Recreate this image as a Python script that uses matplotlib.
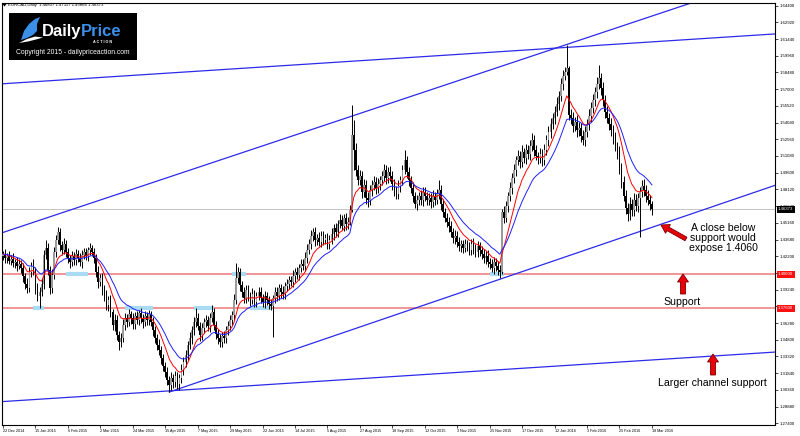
import matplotlib
matplotlib.use("Agg")
import matplotlib.pyplot as plt
from matplotlib.patches import Rectangle, Polygon, FancyArrow
from matplotlib.transforms import blended_transform_factory
import numpy as np
import pandas as pd

SYMBOL = "EURCAD,Daily"
LAST_OHLC = (1.46837, 1.47117, 1.45866, 1.46373)
FIRST_OPEN = 1.4222

# daily closes, 22 Dec 2014 .. 18 Mar 2016
CLOSES = [
    1.4240, 1.4204, 1.4222, 1.4178, 1.4195, 1.4160, 1.4169, 1.4133, 1.4151, 1.4116,
    1.4045, 1.3974, 1.3938, 1.4080, 1.4133, 1.4098, 1.3938, 1.3867, 1.3903, 1.3974,
    1.4231, 1.4293, 1.4098, 1.3938, 1.4053, 1.4257, 1.4364, 1.4434, 1.4319, 1.4275,
    1.4328, 1.4257, 1.4204, 1.4169, 1.4222, 1.4186, 1.4240, 1.4204, 1.4169, 1.4231,
    1.4257, 1.4222, 1.4275, 1.4293, 1.4257, 1.4204, 1.4080, 1.3991, 1.4027, 1.3921,
    1.3867, 1.3788, 1.3832, 1.3726, 1.3610, 1.3655, 1.3522, 1.3460, 1.3495, 1.3610,
    1.3673, 1.3637, 1.3708, 1.3673, 1.3619, 1.3690, 1.3655, 1.3717, 1.3673, 1.3637,
    1.3690, 1.3655, 1.3708, 1.3637, 1.3566, 1.3495, 1.3433, 1.3389, 1.3318, 1.3247,
    1.3194, 1.3123, 1.3079, 1.3141, 1.3105, 1.3159, 1.3088, 1.3141, 1.3212, 1.3283,
    1.3345, 1.3433, 1.3495, 1.3566, 1.3637, 1.3673, 1.3602, 1.3522, 1.3584, 1.3637,
    1.3655, 1.3602, 1.3673, 1.3726, 1.3610, 1.3531, 1.3495, 1.3460, 1.3513, 1.3495,
    1.3566, 1.3602, 1.3655, 1.3699, 1.3832, 1.4027, 1.4080, 1.3965, 1.3903, 1.3850,
    1.3921, 1.3867, 1.3832, 1.3885, 1.3814, 1.3867, 1.3903, 1.3850, 1.3814, 1.3867,
    1.3832, 1.3797, 1.3779, 1.3850, 1.3903, 1.3867, 1.3938, 1.3903, 1.3885, 1.3956,
    1.3974, 1.4009, 1.3991, 1.4045, 1.4080, 1.4053, 1.4116, 1.4151, 1.4133, 1.4204,
    1.4275, 1.4328, 1.4399, 1.4434, 1.4364, 1.4381, 1.4346, 1.4399, 1.4364, 1.4381,
    1.4328, 1.4364, 1.4417, 1.4470, 1.4434, 1.4505, 1.4541, 1.4488, 1.4559, 1.4505,
    1.4523, 1.4629, 1.5294, 1.5161, 1.4984, 1.4895, 1.4931, 1.4789, 1.4851, 1.4736,
    1.4718, 1.4807, 1.4851, 1.4877, 1.4824, 1.4860, 1.4895, 1.4931, 1.4984, 1.4913,
    1.4966, 1.4931, 1.4860, 1.4807, 1.4771, 1.4842, 1.4895, 1.4984, 1.5072, 1.4966,
    1.4895, 1.4824, 1.4753, 1.4683, 1.4718, 1.4753, 1.4718, 1.4789, 1.4753, 1.4718,
    1.4736, 1.4700, 1.4753, 1.4718, 1.4771, 1.4807, 1.4683, 1.4612, 1.4559, 1.4523,
    1.4488, 1.4434, 1.4381, 1.4399, 1.4346, 1.4310, 1.4328, 1.4293, 1.4328, 1.4310,
    1.4275, 1.4328, 1.4293, 1.4257, 1.4310, 1.4275, 1.4240, 1.4204, 1.4222, 1.4169,
    1.4151, 1.4116, 1.4169, 1.4133, 1.4098, 1.4080, 1.4612, 1.4559, 1.4665, 1.4753,
    1.4824, 1.4913, 1.4984, 1.5072, 1.5108, 1.5055, 1.5143, 1.5090, 1.5161, 1.5126,
    1.5196, 1.5250, 1.5161, 1.5108, 1.5090, 1.5126, 1.5072, 1.5161, 1.5250, 1.5320,
    1.5391, 1.5445, 1.5498, 1.5569, 1.5639, 1.5746, 1.5817, 1.5852, 1.5888, 1.5471,
    1.5445, 1.5374, 1.5409, 1.5338, 1.5356, 1.5285, 1.5250, 1.5320, 1.5391, 1.5462,
    1.5533, 1.5604, 1.5675, 1.5746, 1.5799, 1.5710, 1.5604, 1.5498, 1.5445, 1.5391,
    1.5338, 1.5267, 1.5196, 1.5143, 1.5002, 1.4877, 1.4753, 1.4647, 1.4594, 1.4683,
    1.4629, 1.4718, 1.4665, 1.4736, 1.4789, 1.4842, 1.4807, 1.4753, 1.4718, 1.4683, 1.46373,
]

# wick lengths in pips above max(open, close) / below min(open, close)
UPPER_WICK_PIPS = [
    30, 45, 25, 40, 35, 50, 30, 40, 45, 35,
    40, 30, 55, 45, 35, 60, 30, 45, 40, 50,
    45, 71, 40, 35, 50, 45, 40, 45, 40, 35,
    50, 35, 40, 30, 45, 35, 40, 35, 45, 40,
    35, 40, 30, 45, 26, 35, 40, 50, 35, 45,
    40, 55, 35, 45, 30, 50, 40, 35, 45, 55,
    40, 35, 45, 30, 40, 35, 45, 30, 40, 35,
    45, 35, 40, 30, 45, 40, 35, 50, 35, 40,
    40, 45, 35, 50, 40, 45, 35, 40, 50, 45,
    45, 40, 50, 35, 45, 88, 40, 35, 45, 40,
    40, 35, 45, 62, 35, 40, 45, 35, 40, 45,
    35, 40, 45, 40, 50, 133, 45, 40, 35, 45,
    40, 45, 35, 50, 40, 35, 45, 40, 35, 45,
    40, 35, 45, 30, 40, 45, 35, 40, 50, 35,
    45, 40, 35, 50, 40, 45, 35, 40, 45, 50,
    55, 45, 50, 40, 45, 35, 50, 40, 45, 35,
    45, 40, 50, 35, 45, 40, 50, 45, 35, 40,
    40, 45, 266, 133, 60, 45, 50, 40, 55, 45,
    50, 45, 40, 55, 45, 50, 40, 45, 55, 40,
    45, 50, 40, 45, 35, 50, 40, 45, 89, 40,
    45, 40, 50, 35, 45, 40, 50, 45, 40, 35,
    45, 40, 50, 35, 45, 88, 40, 45, 35, 40,
    40, 45, 35, 50, 40, 45, 35, 40, 45, 35,
    40, 45, 50, 35, 45, 40, 35, 45, 40, 50,
    35, 45, 40, 35, 45, 40, 30, 50, 45, 40,
    50, 45, 55, 40, 50, 45, 60, 40, 55, 45,
    50, 60, 40, 45, 35, 50, 40, 55, 45, 50,
    55, 45, 50, 60, 45, 55, 50, 45, 203, 20,
    50, 55, 45, 60, 50, 45, 55, 50, 45, 60,
    50, 55, 45, 60, 115, 45, 50, 40, 55, 45,
    50, 45, 55, 40, 50, 45, 55, 50, 45, 60,
    45, 60, 50, 45, 40, 55, 60, 45, 50, 40, 28,
]
LOWER_WICK_PIPS = [
    35, 40, 45, 30, 40, 35, 45, 40, 30, 45,
    50, 40, 45, 35, 40, 45, 50, 40, 106, 35,
    40, 35, 45, 50, 40, 35, 45, 40, 50, 40,
    35, 45, 40, 50, 35, 40, 45, 35, 40, 50,
    40, 35, 45, 40, 35, 45, 40, 50, 35, 45,
    45, 40, 50, 45, 40, 50, 45, 71, 40, 35,
    40, 45, 35, 50, 40, 45, 35, 40, 45, 50,
    35, 40, 45, 35, 50, 40, 45, 40, 50, 45,
    45, 40, 62, 45, 50, 40, 45, 50, 40, 45,
    40, 45, 35, 50, 40, 45, 35, 50, 40, 45,
    45, 40, 50, 35, 45, 40, 50, 45, 40, 45,
    40, 45, 35, 40, 45, 35, 40, 50, 45, 40,
    45, 40, 50, 35, 40, 45, 35, 40, 45, 50,
    40, 45, 35, 275, 40, 45, 35, 50, 40, 45,
    40, 45, 35, 40, 50, 35, 45, 40, 35, 45,
    40, 35, 45, 40, 50, 45, 35, 40, 45, 40,
    45, 40, 35, 50, 40, 45, 35, 40, 45, 50,
    45, 30, 20, 177, 50, 45, 40, 55, 45, 50,
    60, 45, 50, 40, 55, 45, 50, 40, 45, 50,
    40, 45, 50, 55, 45, 40, 50, 45, 40, 55,
    50, 45, 55, 40, 50, 45, 40, 50, 45, 40,
    45, 50, 40, 45, 35, 40, 50, 45, 40, 45,
    50, 45, 40, 55, 45, 40, 50, 45, 40, 45,
    45, 40, 50, 45, 40, 50, 45, 40, 50, 45,
    45, 40, 50, 45, 40, 53, 20, 45, 40, 50,
    45, 50, 40, 55, 45, 50, 45, 40, 50, 45,
    55, 45, 50, 40, 55, 45, 50, 45, 40, 50,
    50, 45, 55, 40, 50, 45, 55, 40, 30, 40,
    55, 50, 45, 60, 50, 55, 45, 50, 45, 55,
    50, 45, 55, 50, 45, 60, 50, 55, 45, 50,
    55, 50, 45, 60, 55, 50, 45, 55, 60, 50,
    50, 55, 45, 50, 346, 45, 55, 50, 45, 50, 50,
]

DATE_LABELS = [
    "22 Dec 2014", "15 Jan 2015", "6 Feb 2015", "2 Mar 2015", "24 Mar 2015",
    "15 Apr 2015", "7 May 2015", "29 May 2015", "22 Jun 2015", "14 Jul 2015",
    "5 Aug 2015", "27 Aug 2015", "18 Sep 2015", "12 Oct 2015", "3 Nov 2015",
    "25 Nov 2015", "17 Dec 2015", "12 Jan 2016", "3 Feb 2016", "25 Feb 2016",
    "18 Mar 2016",
]
DATE_STEP = 16
PRICE_TICK_START, PRICE_TICK_STEP, N_PRICE_TICKS = 1.27400, 0.01480, 26

SUPPORT_LEVELS = [1.40600, 1.37600]
# (first bar, last bar, level) where price tested a level
TOUCHES = [(15, 20, 1.3760), (31, 42, 1.4060), (60, 74, 1.3760), (94, 104, 1.3760),
           (113, 120, 1.4060), (122, 132, 1.3760), (240, 247, 1.4060)]

# trend lines as two (bar, price) anchors
CHANNEL_TOP = [(156, 1.5365), (255, 1.5958)]
UPPER_FLAT = [(-1.5, 1.5746), (380.7, 1.6189)]
RISING_SUPPORT = [(82, 1.3017), (260, 1.4108)]
LOWER_FLAT = [(-1.5, 1.2931), (380.7, 1.3371)]

FAST_EMA, SLOW_EMA = 10, 20
XMAX = 380.7
YLIM = (1.2725, 1.6463)

FONT = "Liberation Sans"
BLUE = "#2b2bea"

closes = np.array(CLOSES)
n = len(closes)
idx = np.arange(n)
opens = np.r_[FIRST_OPEN, closes[:-1]]
opens[-1] = LAST_OHLC[0]
highs = np.maximum(opens, closes) + np.array(UPPER_WICK_PIPS) / 1e4
lows = np.minimum(opens, closes) - np.array(LOWER_WICK_PIPS) / 1e4
bull = closes >= opens

fig = plt.figure(figsize=(8, 4.36), dpi=100)
ax = fig.add_axes([2 / 800, 11 / 436, 773 / 800, 422 / 436])
ax.set_xlim(-0.5, XMAX)
ax.set_ylim(*YLIM)

# horizontal levels and touches
ax.axhline(LAST_OHLC[3], color="#c4c4c4", lw=0.7, zorder=1)
for lvl in SUPPORT_LEVELS:
    ax.axhline(lvl, color="#f08c8c", lw=1.3, zorder=1)
for a, b, lvl in TOUCHES:
    ax.plot([a, b], [lvl, lvl], color="#a9dcf2", lw=3, solid_capstyle="butt", zorder=1.5)

# trend lines
ax.axline(*CHANNEL_TOP, color=BLUE, lw=0.9, zorder=2)
ax.axline(*UPPER_FLAT, color=BLUE, lw=0.9, zorder=2)
ax.axline(*LOWER_FLAT, color=BLUE, lw=0.9, zorder=2)
(x0, y0), (x1, y1) = RISING_SUPPORT
slope = (y1 - y0) / (x1 - x0)
ax.plot([x0, XMAX], [y0, y0 + slope * (XMAX - x0)], color=BLUE, lw=0.9, zorder=2)

# candles
ax.vlines(idx, lows, highs, color="black", lw=0.7, zorder=3)
ax.bar(idx[bull], (closes - opens)[bull], bottom=opens[bull], width=0.85,
       color="#9a9a9a", lw=0, zorder=3.5)
ax.bar(idx[~bull], (closes - opens)[~bull], bottom=opens[~bull], width=0.85,
       color="black", lw=0, zorder=3.5)

# moving averages
s = pd.Series(closes)
ax.plot(idx, s.ewm(span=FAST_EMA, adjust=False).mean(), color="red", lw=0.7, zorder=4)
ax.plot(idx, s.ewm(span=SLOW_EMA, adjust=False).mean(), color="#1f1fff", lw=0.7, zorder=4)

# axes styling
for sp in ax.spines.values():
    sp.set_linewidth(0.8)
ax.yaxis.tick_right()
ticks = [PRICE_TICK_START + k * PRICE_TICK_STEP for k in range(N_PRICE_TICKS)]
ax.set_yticks(ticks)
ax.set_yticklabels([f"{t:.5f}" for t in ticks], fontsize=3.1, family=FONT)
ax.set_xticks(np.arange(0, n, DATE_STEP))
ax.set_xticklabels(DATE_LABELS, fontsize=2.7, family=FONT)
for lbl in ax.get_xticklabels():
    lbl.set_ha("left")
ax.tick_params(axis="both", length=2, width=0.5, pad=1.2)

tr = blended_transform_factory(ax.transAxes, ax.transData)
for lvl in SUPPORT_LEVELS:
    ax.text(1.004, lvl, f"{lvl:.5f}", transform=tr, fontsize=3.1, family=FONT,
            color="white", va="center", ha="left", zorder=6,
            bbox=dict(boxstyle="square,pad=0.35", fc="#ff1010", ec="none"))
ax.text(1.004, LAST_OHLC[3], f"{LAST_OHLC[3]:.5f}", transform=tr, fontsize=3.1,
        family=FONT, color="white", va="center", ha="left", zorder=6,
        bbox=dict(boxstyle="square,pad=0.35", fc="black", ec="none"))

# overlay in pixel coordinates for header, logo and annotations
ov = fig.add_axes([0, 0, 1, 1], zorder=10)
ov.set_xlim(0, 800)
ov.set_ylim(436, 0)
ov.axis("off")

ov.add_patch(Polygon([(2.5, 4), (6.5, 4), (4.5, 6.5)], closed=True, fc="black", ec="none"))
ov.text(8, 5.3, SYMBOL + "  " + " ".join(f"{v:.5f}" for v in LAST_OHLC),
        fontsize=3.1, family=FONT, va="center", ha="left")

ov.add_patch(Rectangle((9, 13), 128, 47, fc="black", ec="none"))
ov.add_patch(Polygon([(21, 40), (24, 31), (29, 24), (35, 19), (40, 17), (37, 24),
                      (37, 31), (33, 35), (27, 38)], closed=True, fc="#3b8fe8", ec="none"))
ov.add_patch(Polygon([(19, 43), (27, 39), (35, 36.5), (43, 37.5), (36, 39.5), (28, 41.5)],
                     closed=True, fc="white", ec="none"))
ov.text(42, 31.5, "Daily", fontsize=12, weight="bold", family=FONT, color="white",
        va="center", ha="left")
ov.text(80.5, 31.5, "Price", fontsize=12, weight="bold", family=FONT, color="#3b8fe8",
        va="center", ha="left")
ov.text(103, 42.3, "A C T I O N", fontsize=2.7, weight="bold", family=FONT,
        color="white", va="center", ha="center")
ov.text(73, 52.5, "Copyright 2015 - dailypriceaction.com", fontsize=4.9, family=FONT,
        color="white", va="center", ha="center")

arrow_kw = dict(fc="#e8000b", ec="#7a0000", lw=0.6, length_includes_head=True)
ov.add_patch(FancyArrow(686, 239, -25, -14, width=4, head_width=10, head_length=8, **arrow_kw))
ov.add_patch(FancyArrow(683, 294, 0, -20, width=5, head_width=11, head_length=8, **arrow_kw))
ov.add_patch(FancyArrow(713, 375, 0, -21, width=5, head_width=11, head_length=8, **arrow_kw))

ov.text(723, 238, "A close below\nsupport would\nexpose 1.4060", fontsize=7.6,
        family=FONT, ha="center", va="center", linespacing=1.05)
ov.text(682, 302, "Support", fontsize=7.6, family=FONT, ha="center", va="center")
ov.text(712, 383, "Larger channel support", fontsize=7.6, family=FONT,
        ha="center", va="center")

fig.savefig("out.png", dpi=100)
